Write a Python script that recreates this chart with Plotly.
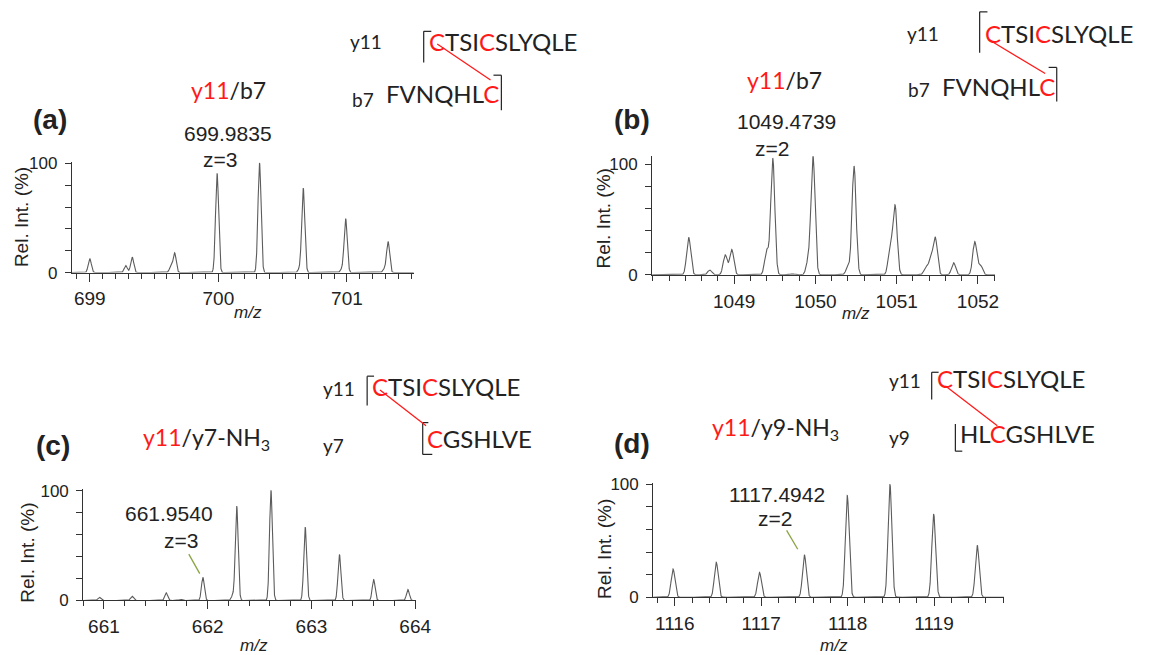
import numpy as np
import plotly.graph_objects as go

W, H = 1150, 655

# ---------------- data ----------------
# panel (a): y11/b7, z=3
a_mz  = [699.00, 699.28, 699.33, 699.63, 699.66, 699.99, 700.32, 700.63, 700.66, 700.96, 700.99, 701.29, 701.32]
a_int = [12.8,   6.5,    14.3,   5.0,    17.9,   91.0,   100.5,  3.0,    77.4,   3.0,    49.4,   3.0,    28.3]
# panel (b): y11/b7, z=2
b_mz  = [1048.44, 1048.70, 1048.89, 1048.97, 1049.40, 1049.475, 1049.72, 1049.91, 1049.97,
         1050.40, 1050.475, 1050.92, 1050.98, 1051.36, 1051.42, 1051.475, 1051.70, 1051.96, 1052.03]
b_int = [34.0, 4.4, 18.0, 23.0, 22.0, 105.5, 1.0, 12.0, 107.5,
         7.0, 98.5, 26.0, 62.0, 7.0, 14.0, 33.0, 11.0, 30.0, 9.0]
# panel (c): y11/y7-NH3, z=3
c_mz  = [660.955, 661.27, 661.60, 661.74, 661.954, 662.24, 662.28, 662.61, 662.94, 663.27, 663.60, 663.93]
c_int = [3.0, 4.0, 7.0, 1.0, 21.0, 4.0, 86.0, 100.5, 67.0, 42.0, 19.0, 10.0]
# panel (d): y11/y9-NH3, z=2
d_mz  = [1115.98, 1116.48, 1116.98, 1117.50, 1117.996, 1118.49, 1118.996, 1119.50]
d_int = [25.0, 31.0, 22.0, 37.6, 90.0, 100.0, 73.6, 46.0]

# axis ranges / tick labels
x_ranges = {"a": [698.86, 701.52], "b": [1047.99, 1052.21], "c": [660.80, 664.01], "d": [1115.75, 1119.81]}
x_ticks = {"a": [699, 700, 701], "b": [1049, 1050, 1051, 1052],
           "c": [661, 662, 663, 664], "d": [1116, 1117, 1118, 1119]}
x_minor_step = {"a": 0.1, "b": 0.2, "c": 0.2, "d": 0.2}
y_max = {"a": 101.5, "b": 107.5, "c": 101.5, "d": 101.5}
y_ticks = [0, 100]
y_minor = [20, 40, 60, 80]

precursor = {"a": ("699.9835", "z=3"), "b": ("1049.4739", "z=2"), "c": ("661.9540", "z=3"), "d": ("1117.4942", "z=2")}

# ---------------- layout geometry (pixels) ----------------
geom = {
    "a": dict(xl=72.7, xr=419.3, y0=272.7, y100=160.7),
    "b": dict(xl=660.7, xr=1008.2, y0=275.0, y100=161.7),
    "c": dict(xl=84.3, xr=421.7, y0=609.3, y100=496.7),
    "d": dict(xl=661.8, xr=1017.3, y0=606.0, y100=490.0),
}
sigma = {"a": 0.012, "b": 0.025, "c": 0.014, "d": 0.022}   # drawn peak width (style)

ARIAL = "Liberation Sans, Arial, sans-serif"
CALI = "Lato, Carlito, Calibri, sans-serif"
RED = "#ff1a1a"
INK = "#222222"
AX = "#333333"


def px(x):
    return x / W


def py(y):
    return 1 - y / H


def profile(centers, heights, lo, hi, s, n=4000):
    x = np.linspace(lo, hi, n)
    y = np.zeros_like(x)
    for c, h in zip(centers, heights):
        y += h * np.exp(-0.5 * ((x - c) / s) ** 2)
    return x, y


fig = go.Figure()
data = {"a": (a_mz, a_int), "b": (b_mz, b_int), "c": (c_mz, c_int), "d": (d_mz, d_int)}
keys = ["a", "b", "c", "d"]
layout = {}
for i, k in enumerate(keys):
    sfx = "" if i == 0 else str(i + 1)
    g = geom[k]
    lo, hi = x_ranges[k]
    xs, ys = profile(data[k][0], data[k][1], lo, hi, sigma[k])
    fig.add_trace(go.Scatter(x=xs, y=ys, mode="lines", line=dict(color="#5c5c5c", width=1.1),
                             xaxis="x" + sfx, yaxis="y" + sfx, hoverinfo="skip", showlegend=False))
    ppu = (g["y0"] - g["y100"]) / 100.0
    ytop = g["y0"] - y_max[k] * ppu
    step = x_minor_step[k]
    first = np.ceil(lo / step - 1e-6) * step
    minor_vals = [round(v, 3) for v in np.arange(first, hi + 1e-9, step)]
    layout["xaxis" + sfx] = dict(
        domain=[px(g["xl"]), px(g["xr"])], range=x_ranges[k], anchor="y" + sfx,
        showline=True, linecolor=AX, linewidth=1, showgrid=False, zeroline=False,
        ticks="outside", ticklen=8, tickwidth=1, tickcolor=AX,
        tickmode="array", tickvals=x_ticks[k], ticktext=[str(v) for v in x_ticks[k]],
        minor=dict(ticks="outside", ticklen=5, tickwidth=1, tickcolor=AX, tickmode="array", tickvals=minor_vals),
        tickfont=dict(family=ARIAL, size=19, color=INK), ticklabelstandoff=1,
    )
    layout["yaxis" + sfx] = dict(
        domain=[py(g["y0"]), py(ytop)], range=[0, y_max[k]], anchor="x" + sfx,
        showline=True, linecolor=AX, linewidth=1, showgrid=False, zeroline=False,
        ticks="outside", ticklen=6, tickwidth=1, tickcolor=AX,
        tickmode="array", tickvals=y_ticks, ticktext=[str(v) for v in y_ticks],
        minor=dict(ticks="outside", ticklen=6, tickwidth=1, tickcolor=AX, tickmode="array", tickvals=y_minor),
        tickfont=dict(family=ARIAL, size=17, color=INK), ticklabelstandoff=4,
    )

ann = []


def text(x, y, s, size, family=ARIAL, xanchor="center", color=INK, angle=0):
    ann.append(dict(x=px(x), y=py(y), xref="paper", yref="paper", text=s, showarrow=False,
                    xanchor=xanchor, yanchor="middle", textangle=angle,
                    font=dict(family=family, size=size, color=color)))


def r(s):
    return '<span style="color:%s">%s</span>' % (RED, s)


shapes = []


def line(x0, y0, x1, y1, color="#222", width=1.2):
    shapes.append(dict(type="line", xref="paper", yref="paper", x0=px(x0), y0=py(y0), x1=px(x1), y1=py(y1),
                       line=dict(color=color, width=width)))


# panel letters
for k, (x, y) in {"a": (51, 115), "b": (640, 115), "c": (53.5, 450), "d": (640, 448)}.items():
    text(x, y, "<b>(%s)</b>" % k, 28)

# axis titles
for k, (x, y) in {"a": (22, 216), "b": (611, 217), "c": (27.7, 560), "d": (612.7, 556.7)}.items():
    text(x, y, "Rel. Int. (%)", 19, angle=-90)
for k, (x, y) in {"a": (251, 314), "b": (867, 315), "c": (257, 655), "d": (845, 655)}.items():
    text(x, y, "<i>m/z</i>", 17)

# precursor labels
pos_mz = {"a": (231, 130), "b": (797, 118), "c": (171, 520), "d": (787, 500)}
pos_z = {"a": (223, 157), "b": (782, 145), "c": (183, 548), "d": (785, 525)}
for k in keys:
    text(*pos_mz[k], precursor[k][0], 21)
    text(*pos_z[k], precursor[k][1], 21)
# leader lines (c), (d)
line(191.3, 561.7, 202.4, 581.7, color="#8aa442", width=1.3)
line(797, 537.3, 808.3, 556.7, color="#8aa442", width=1.3)

# fragment titles
text(231.5, 85, r("y11") + "/b7", 23, CALI)
text(794.5, 75, r("y11") + "/b7", 23, CALI)
text(209, 443, r("y11") + "/y7-NH<sub>3</sub>", 23, CALI)
text(785.4, 433, r("y11") + "/y9-NH<sub>3</sub>", 23, CALI)

seq_y11 = r("C") + "TSI" + r("C") + "SLYQLE"

# (a) sequences
text(371, 35, "y11", 19, CALI)
text(433, 35, seq_y11, 24, CALI, xanchor="left")
text(367.5, 95, "b7", 19, CALI)
text(389, 89, "FVNQHL" + r("C"), 24, CALI, xanchor="left")
line(429.3, 25, 429.3, 57)
line(429.3, 25, 437, 25)
line(508, 70, 508, 106)
line(500, 70, 508, 70)
line(443, 38, 497, 75, color=RED, width=1.3)

# (b) sequences
text(935.5, 27, "y11", 19, CALI)
text(995.5, 27, seq_y11, 24, CALI, xanchor="left")
text(931, 85, "b7", 19, CALI)
text(952.6, 82, "FVNQHL" + r("C"), 24, CALI, xanchor="left")
line(992.6, 5, 992.6, 47)
line(992.6, 5, 1000.5, 5)
line(1070.7, 62, 1070.7, 97)
line(1062.5, 62, 1070.7, 62)
line(1001.7, 33.3, 1059, 68.3, color=RED, width=1.3)

# (c) sequences
text(343, 391.7, "y11", 19, CALI)
text(375, 389.3, seq_y11, 24, CALI, xanchor="left")
text(337.5, 450, "y7", 19, CALI)
text(431, 443, r("C") + "GSHLVE", 24, CALI, xanchor="left")
line(372, 379, 372, 409)
line(372, 379, 379, 379)
line(428.3, 426.7, 428.3, 459.3)
line(428.3, 426.7, 434, 426.7)
line(428.3, 459.3, 438, 459.3)
line(385, 393.3, 431.7, 430, color=RED, width=1.3)

# (d) sequences
text(917, 383.3, "y11", 19, CALI)
text(947, 381.7, seq_y11, 24, CALI, xanchor="left")
text(911.7, 441.7, "y9", 19, CALI)
text(971, 438, "HL" + r("C") + "GSHLVE", 24, CALI, xanchor="left")
line(944, 375, 944, 403)
line(944, 375, 951, 375)
line(968, 428, 968, 456)
line(968, 456, 975, 456)
line(958, 389, 1010.5, 430, color=RED, width=1.3)

fig.update_layout(
    width=W, height=H, margin=dict(l=0, r=0, t=0, b=0),
    paper_bgcolor="white", plot_bgcolor="white", showlegend=False,
    annotations=ann, shapes=shapes, **layout,
)
fig.write_html("out.html")
